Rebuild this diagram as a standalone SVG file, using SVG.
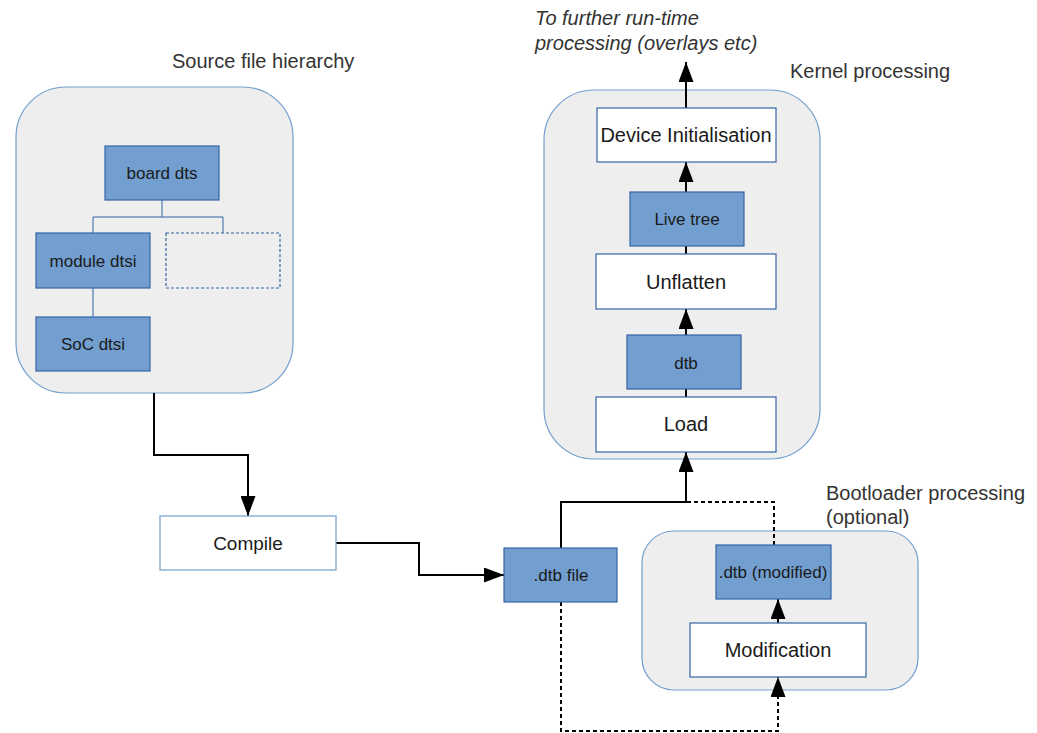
<svg xmlns="http://www.w3.org/2000/svg" width="1037" height="733" viewBox="0 0 1037 733">
<style>
.cont{fill:#eeeeee;stroke:#729fcf;stroke-width:1.2}
.blue{fill:#729fcf;stroke:#3465a4;stroke-width:1.2}
.white{fill:#ffffff;stroke:#3465a4;stroke-width:1.2}
.wlight{fill:#ffffff;stroke:#729fcf;stroke-width:1.2}
.dash{fill:none;stroke:#3465a4;stroke-width:1.2;stroke-dasharray:3,2}
.t{font-family:"Liberation Sans",Arial,sans-serif;fill:#1a1a1a;text-anchor:middle}
.s{font-size:17px}
.l{font-size:20px}
.lab{font-family:"Liberation Sans",Arial,sans-serif;font-size:20px;fill:#333333}
.tree{fill:none;stroke:#3465a4;stroke-width:1}
.c{fill:none;stroke:#000;stroke-width:2}
.cd{fill:none;stroke:#000;stroke-width:2;stroke-dasharray:4,3}
</style>
<defs>
<marker id="ah" markerWidth="20" markerHeight="15" refX="20" refY="7.5" orient="auto" markerUnits="userSpaceOnUse" viewBox="0 0 20 15">
<path d="M0,0 L20,7.5 L0,15 Z" fill="#000"/>
</marker>
</defs>

<g id="source-container">
<rect class="cont" x="16" y="87" width="277" height="306" rx="50" ry="50"/>
<text class="lab" x="172" y="68">Source file hierarchy</text>
</g>
<g id="tree-lines">
<path class="tree" d="M162,200 V217 M93,233 V217 H223 V233 M93,288 V317"/>
</g>
<g id="board-dts"><rect class="blue" x="105" y="146" width="114" height="54"/><text class="t s" x="162" y="179">board dts</text></g>
<g id="module-dtsi"><rect class="blue" x="36" y="233" width="114" height="55"/><text class="t s" x="93" y="267">module dtsi</text></g>
<g id="dashed-box"><rect class="dash" x="166" y="233" width="114" height="55"/></g>
<g id="soc-dtsi"><rect class="blue" x="36" y="317" width="114" height="54"/><text class="t s" x="93" y="350">SoC dtsi</text></g>

<g id="kernel-container">
<rect class="cont" x="544" y="90" width="276" height="369" rx="50" ry="50"/>
<text class="lab" x="790" y="78">Kernel processing</text>
</g>
<g id="further-label">
<text class="lab" x="535" y="25" font-style="italic">To further run-time</text>
<text class="lab" x="535" y="50" font-style="italic">processing (overlays etc)</text>
</g>

<g id="bootloader-container">
<rect class="cont" x="642" y="531" width="276" height="159" rx="32" ry="32"/>
<text class="lab" x="826" y="500">Bootloader processing</text>
<text class="lab" x="826" y="524">(optional)</text>
</g>

<g id="connectors">
<path class="c" d="M686,108 V62" marker-end="url(#ah)"/>
<path class="c" d="M686,192 V162" marker-end="url(#ah)"/>
<path class="c" d="M686,254 V246"/>
<path class="c" d="M686,335 V309" marker-end="url(#ah)"/>
<path class="c" d="M686,397 V389"/>
<path class="c" d="M561,548 V502 H686 V452" marker-end="url(#ah)"/>
<path class="cd" d="M774,545 V502 H686"/>
<path class="c" d="M778,623 V599" marker-end="url(#ah)"/>
<path class="cd" d="M561,602 V731 H778 V677" marker-end="url(#ah)"/>
<path class="c" d="M154,393 V455 H248 V516" marker-end="url(#ah)"/>
<path class="c" d="M336,543 H419 V575 H504" marker-end="url(#ah)"/>
</g>

<g id="device-init"><rect class="white" x="597" y="108" width="179" height="54"/><text class="t l" x="686" y="142">Device Initialisation</text></g>
<g id="live-tree"><rect class="blue" x="630" y="192" width="114" height="54"/><text class="t s" x="687" y="225">Live tree</text></g>
<g id="unflatten"><rect class="white" x="596" y="254" width="180" height="55"/><text class="t l" x="686" y="289">Unflatten</text></g>
<g id="dtb"><rect class="blue" x="627" y="335" width="114" height="54"/><text class="t s" x="686" y="369">dtb</text></g>
<g id="load"><rect class="white" x="596" y="397" width="180" height="55"/><text class="t l" x="686" y="431">Load</text></g>

<g id="compile"><rect class="wlight" x="160" y="516" width="176" height="54"/><text class="t" x="248" y="550" font-size="19" fill="#333333">Compile</text></g>
<g id="dtb-file"><rect class="blue" x="504" y="548" width="113" height="54"/><text class="t s" x="561" y="581">.dtb file</text></g>
<g id="dtb-modified"><rect class="blue" x="716" y="545" width="115" height="54"/><text class="t s" x="773" y="578">.dtb (modified)</text></g>
<g id="modification"><rect class="white" x="690" y="623" width="176" height="54"/><text class="t l" x="778" y="657">Modification</text></g>
</svg>
